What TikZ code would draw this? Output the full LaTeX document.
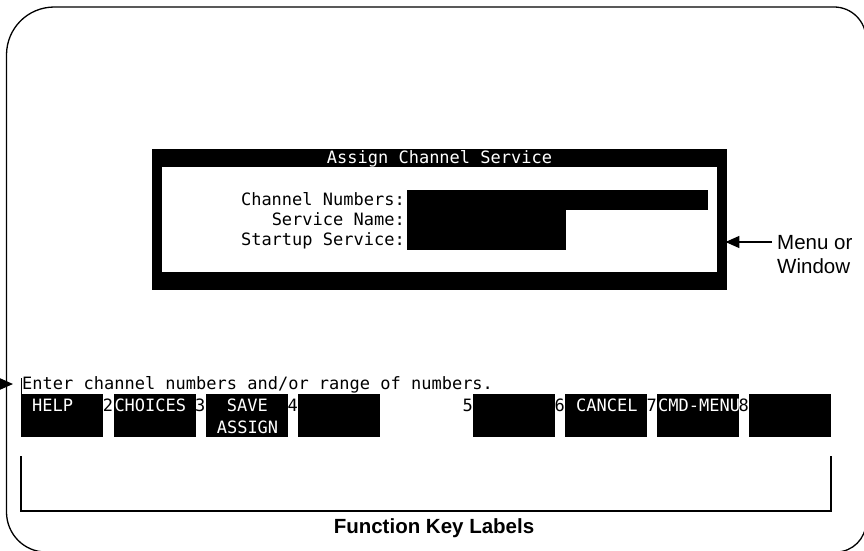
\documentclass[tikz,border=0pt]{standalone}
\usepackage{fontspec}
\setmainfont{Liberation Sans}
\newfontfamily\termfont{DejaVu Sans Mono}
\usetikzlibrary{arrows.meta}
\begin{document}
\begin{tikzpicture}[x=1pt,y=-1pt,
  term/.style={font=\termfont\fontsize{17}{20}\selectfont, inner sep=0pt, anchor=base west},
  termw/.style={term, text=white},
  digit/.style={term, anchor=base east},
  keybox/.style={fill=black, minimum width=82pt, minimum height=43pt, inner sep=0pt, anchor=north west},
  callout/.style={font=\fontsize{20.5}{24}\selectfont, inner sep=0pt, anchor=base west},
  pointer/.style={-{Triangle[length=14pt,width=12pt]}, line width=1.5pt},
  framestyle/.style={line width=1.3pt}
]
\useasboundingbox (0,0) rectangle (864,551);
\begin{scope}
\clip (0,0) rectangle (864,551);
% outer screen frame
\draw[framestyle] (6.5,55) .. controls (6.5,28.5) and (27.5,7) .. (54.5,7)
  -- (834,7) .. controls (851.7,7) and (866,21.3) .. (866,39)
  -- (866,522) .. controls (866,538.6) and (852.6,552) .. (836,552)
  -- (46,552) .. controls (24,552) and (6.5,534) .. (6.5,512) -- cycle;
% left pointer
\coordinate (lstart) at (-30,384);
\coordinate (ltip) at (13,384);
\draw[pointer] (lstart) -- (ltip);
\end{scope}

% menu window
\node[fill=black, minimum width=575pt, minimum height=141pt, inner sep=0pt, anchor=north west] (menu) at (152,149) {};
\fill[white] (162,167) rectangle (717,272);
\node[termw, anchor=base] (title) at (439.5,163) {Assign Channel Service};
\node[term, anchor=base east] (l1) at (405,205) {Channel Numbers:};
\node[term, anchor=base east] (l2) at (405,225) {Service Name:};
\node[term, anchor=base east] (l3) at (405,245) {Startup Service:};
\fill (407,190) rectangle (708,210);
\fill (407,210) rectangle (566,250);

% callout for menu
\node[callout] (ml1) at (777,249) {Menu or};
\node[callout] (ml2) at (777,273) {Window};
\coordinate (mstart) at (772,242);
\draw[pointer, shorten >=-2pt] (mstart) -- (menu.east |- mstart);

% prompt line
\node[term] (prompt) at (22,389) {Enter channel numbers and/or range of numbers.};
\draw[line width=1pt] (21,378) -- (21,437);

% function keys
\node[keybox] (k1) at (21,394) {};
\node[keybox] (k2) at (113.3,394) {};
\node[keybox] (k3) at (205.6,394) {};
\node[keybox] (k4) at (298,394) {};
\node[keybox] (k5) at (473,394) {};
\node[keybox] (k6) at (565,394) {};
\node[keybox] (k7) at (657,394) {};
\node[keybox] (k8) at (749,394) {};

\node[termw] at ([xshift=11pt,yshift=-17pt]k1.north west) {HELP};
\node[termw] at ([xshift=1pt,yshift=-17pt]k2.north west) {CHOICES};
\node[termw] at ([xshift=21pt,yshift=-17pt]k3.north west) {SAVE};
\node[termw] at ([xshift=11pt,yshift=-39pt]k3.north west) {ASSIGN};
\node[termw] at ([xshift=11pt,yshift=-17pt]k6.north west) {CANCEL};
\node[termw] at ([xshift=1pt,yshift=-17pt]k7.north west) {CMD-MENU};

\node[digit] at ([yshift=-17pt]k2.north west) {2};
\node[digit] at ([yshift=-17pt]k3.north west) {3};
\node[digit] at ([yshift=-17pt]k4.north west) {4};
\node[digit] at ([yshift=-17pt]k5.north west) {5};
\node[digit] at ([yshift=-17pt]k6.north west) {6};
\node[digit] at ([yshift=-17pt]k7.north west) {7};
\node[digit] at ([yshift=-17pt]k8.north west) {8};

% bracket
\coordinate (bl) at (21,456);
\coordinate (br) at (831,456);
\draw[line width=2pt] (bl) |- (831,511) -- (br);
\node[font=\bfseries\fontsize{20.5}{24}\selectfont, inner sep=0pt] (fkl) at (434,528) {Function Key Labels};
\end{tikzpicture}
\end{document}
